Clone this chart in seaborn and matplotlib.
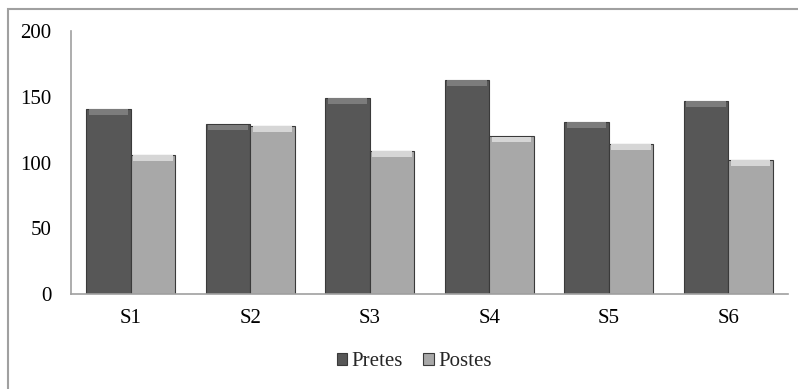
import pandas as pd
import matplotlib.pyplot as plt
import seaborn as sns
from matplotlib.patches import Rectangle

categories = ['S1', 'S2', 'S3', 'S4', 'S5', 'S6']
pretes = [141, 129, 149, 163, 131, 147]
postes = [106, 128, 109, 120, 114, 102]

df = pd.DataFrame({
    'session': categories * 2,
    'score': pretes + postes,
    'test': ['Pretes'] * len(categories) + ['Postes'] * len(categories),
})

sns.set_style('white')
plt.rcParams['font.family'] = ['Liberation Serif', 'DejaVu Serif']

fig = plt.figure(figsize=(7.98, 3.89), dpi=100)
ax = fig.add_axes([71 / 798, 1 - 294 / 389, (788 - 71) / 798, (294 - 31) / 389])

sns.barplot(data=df, x='session', y='score', hue='test', palette=['#575757', '#a8a8a8'],
            width=0.745, ax=ax, edgecolor='#3a3a3a', linewidth=0.8)

# light bevel strip on top of each bar
for bar in list(ax.patches):
    h = bar.get_height()
    if h <= 0:
        continue
    light = '#7c7c7c' if sum(bar.get_facecolor()[:3]) < 1.5 else '#d6d6d6'
    ax.add_patch(Rectangle((bar.get_x() + 0.02, h - 4.5), bar.get_width() - 0.04, 4.2,
                           facecolor=light, edgecolor='none', zorder=bar.get_zorder() + 0.1))

ax.set_ylim(0, 200)
ax.set_yticks([0, 50, 100, 150, 200])
ax.set_xlabel('')
ax.set_ylabel('')
for s in ['top', 'right']:
    ax.spines[s].set_visible(False)
ax.spines['left'].set_color('#a0a0a0')
ax.spines['bottom'].set_color('#a0a0a0')
ax.spines['left'].set_linewidth(1.2)
ax.spines['bottom'].set_linewidth(1.2)
ax.tick_params(axis='both', labelsize=15, length=0, colors='black')
ax.tick_params(axis='y', pad=14)
ax.tick_params(axis='x', pad=11)

ax.legend(loc='center', bbox_to_anchor=(414 / 798, 1 - 362 / 389), bbox_transform=fig.transFigure,
          ncol=2, frameon=False, fontsize=15, handlelength=0.5, handleheight=0.5,
          handletextpad=0.2, columnspacing=1.0)

fig.patches.append(Rectangle((8 / 798, -0.1), 1.2, 1 - 9 / 389 + 0.1, transform=fig.transFigure,
                             fill=False, edgecolor='#a0a0a0', linewidth=1.5))

fig.savefig('out.png', dpi=100)
